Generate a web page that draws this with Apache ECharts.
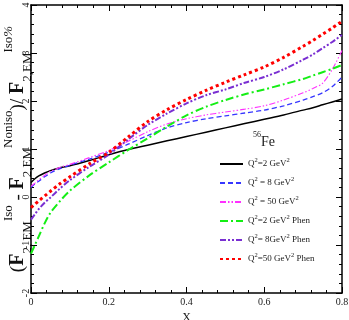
<!DOCTYPE html>
<html><head><meta charset="utf-8">
<script src="https://cdn.jsdelivr.net/npm/echarts@6/dist/echarts.min.js"></script>
<style>html,body{margin:0;padding:0;background:#fff}#c{width:349px;height:320px}</style>
</head><body><div id="c"></div>
<script>
// x positions
var xs = [0, 0.01, 0.02, 0.035, 0.05, 0.075, 0.1, 0.15, 0.2, 0.25, 0.3, 0.35, 0.4, 0.45, 0.5, 0.55, 0.6, 0.65, 0.7, 0.725, 0.75, 0.775, 0.8];
var q2 = [0.30,0.38,0.44,0.50,0.55,0.61,0.65,0.76,0.88,0.99,1.08,1.17,1.26,1.35,1.44,1.53,1.62,1.71,1.81,1.86,1.92,1.98,2.04];
var q8 = [0.20,0.27,0.33,0.42,0.50,0.59,0.66,0.79,0.93,1.10,1.28,1.44,1.55,1.63,1.69,1.75,1.81,1.90,2.02,2.09,2.17,2.30,2.50];
var q50 = [0.22,0.29,0.36,0.45,0.53,0.62,0.68,0.82,0.97,1.16,1.36,1.52,1.63,1.71,1.77,1.83,1.90,2.02,2.17,2.26,2.37,2.66,3.05];
var q2Phen = [-1.18,-1.00,-0.82,-0.55,-0.33,-0.08,0.13,0.45,0.72,0.98,1.22,1.47,1.70,1.88,2.02,2.14,2.24,2.35,2.46,2.53,2.60,2.67,2.75];
var q8Phen = [-0.47,-0.36,-0.25,-0.12,-0.01,0.18,0.35,0.63,0.88,1.20,1.50,1.74,1.95,2.12,2.24,2.38,2.50,2.66,2.86,2.97,3.10,3.23,3.38];
var q50Phen = [-0.22,-0.15,-0.08,0.02,0.12,0.28,0.42,0.69,0.93,1.25,1.57,1.82,2.03,2.22,2.39,2.55,2.71,2.91,3.14,3.26,3.39,3.52,3.66];
var seriesNames = ['Q{s|2}=2 GeV{s|2}', 'Q{s|2} = 8 GeV{s|2}', 'Q{s|2} = 50 GeV{s|2}', 'Q{s|2}=2 GeV{s|2} Phen', 'Q{s|2}= 8GeV{s|2} Phen', 'Q{s|2}=50 GeV{s|2} Phen'];
var xTicks = ['0', '0.2', '0.4', '0.6', '0.8'];
var yTicks = ['-2', '-1', '0', '1', '2', '3', '4'];

var serif = "'Liberation Serif', 'DejaVu Serif', serif";
function pairs(ys){ return xs.map(function(x,i){ return [x, ys[i]]; }); }

var styles = [
  {color:'#000000', width:1.5, type:'solid'},
  {color:'#3636ff', width:1.3, type:[5,3]},
  {color:'#ff30ff', width:1.1, type:[6,2,1.5,2,1.5,2]},
  {color:'#14ee14', width:2, type:[8,3,2,3]},
  {color:'#7a2fd2', width:2, type:[6,2,2,2,2,2]},
  {color:'#ff0000', width:3, type:[3,3]}
];
var allData = [q2, q8, q50, q2Phen, q8Phen, q50Phen];

var series = allData.map(function(d, i){
  return {
    name: seriesNames[i], type:'line', data: pairs(d), symbol:'none', smooth:0.3,
    xAxisIndex:0, yAxisIndex:0,
    lineStyle:{color:styles[i].color, width:styles[i].width, type:styles[i].type},
    itemStyle:{color:styles[i].color}
  };
});

var tickCommon = {inside:true, length:6, lineStyle:{color:'#000', width:1}};
var minorCommon = {show:true, splitNumber:5, length:3, lineStyle:{color:'#000', width:1}};
var lineCommon = {show:true, onZero:false, lineStyle:{color:'#000', width:1.5}};

var chart = echarts.init(document.getElementById('c'), null, {renderer:'canvas'});
chart.setOption({
  animation:false,
  backgroundColor:'#fff',
  grid:{left:31, right:7, top:5, bottom:27, containLabel:false, outerBoundsMode:'none'},
  xAxis:[
    {type:'value', min:0, max:0.8, interval:0.2, position:'bottom',
     axisLine:lineCommon, axisTick:tickCommon, minorTick:minorCommon, splitLine:{show:false},
     axisLabel:{margin:4, fontFamily:serif, fontSize:10, color:'#222',
       formatter:function(v){ return xTicks[Math.round(v/0.2)]; }},
     name:'X', nameLocation:'middle', nameGap:19,
     nameTextStyle:{fontFamily:serif, fontSize:12, color:'#222'}},
    {type:'value', min:0, max:0.8, interval:0.2, position:'top',
     axisLine:lineCommon, axisTick:tickCommon, minorTick:minorCommon, splitLine:{show:false},
     axisLabel:{show:false}}
  ],
  yAxis:[
    {type:'value', min:-2, max:4, interval:1, position:'left',
     axisLine:lineCommon, axisTick:tickCommon, minorTick:minorCommon, splitLine:{show:false},
     axisLabel:{rotate:90, margin:0, fontFamily:serif, fontSize:10, color:'#222',
       formatter:function(v){ return yTicks[Math.round(v+2)]; }}},
    {type:'value', min:-2, max:4, interval:1, position:'right',
     axisLine:lineCommon, axisTick:tickCommon, minorTick:minorCommon, splitLine:{show:false},
     axisLabel:{show:false}}
  ],
  legend:{
    show:true, orient:'vertical', left:214, top:152, itemWidth:23, itemHeight:10, itemGap:5,
    itemStyle:{opacity:0},
    formatter:function(n){ return n; },
    textStyle:{fontFamily:serif, fontSize:9, color:'#222', lineHeight:14,
      rich:{s:{fontFamily:serif, fontSize:6.5, verticalAlign:'top', lineHeight:8, color:'#222'}}}
  },
  graphic:[
    {type:'text', x:264, y:140, style:{
      text:'{s|56}{m|Fe}', align:'center', verticalAlign:'middle',
      rich:{
        s:{fontFamily:serif, fontSize:8, verticalAlign:'top', lineHeight:8, fill:'#222'},
        m:{fontFamily:serif, fontSize:14, lineHeight:18, verticalAlign:'bottom', fill:'#222'}
      }}},
    {type:'text', x:18, y:149, rotation:Math.PI/2, style:{
      text:'{p|(}{F|F}{b|2, EM}{t|Iso}{p| - }{F|F}{b|2,EM}{t|Noniso}{p|)/ }{F|F}{b|2,EM}{t|Iso}{pc|%}',
      align:'center', verticalAlign:'middle',
      rich:{
        p:{fontFamily:serif, fontSize:19, lineHeight:32, verticalAlign:'middle', fill:'#111'},
        F:{fontFamily:serif, fontSize:20, fontWeight:'bold', lineHeight:32, verticalAlign:'middle', fill:'#111'},
        b:{fontFamily:serif, fontSize:13, lineHeight:20, verticalAlign:'bottom', fill:'#111'},
        t:{fontFamily:serif, fontSize:13, lineHeight:10, verticalAlign:'top', fill:'#111'},
        pc:{fontFamily:serif, fontSize:13, fontStyle:'italic', lineHeight:10, verticalAlign:'top', fill:'#111'}
      }}}
  ],
  series: series
});
</script>
</body></html>
